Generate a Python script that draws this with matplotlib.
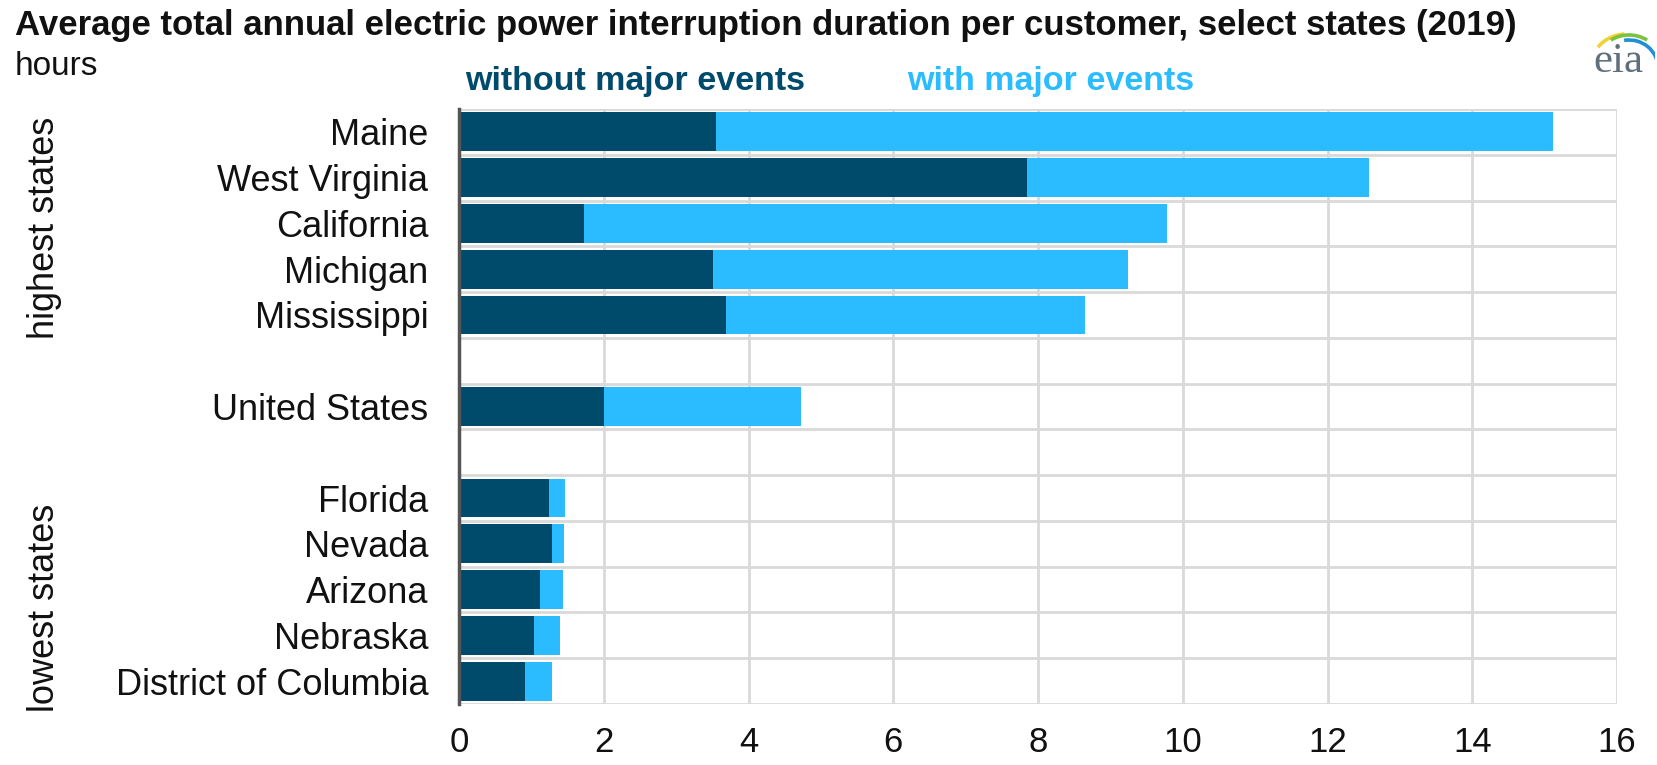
import matplotlib
matplotlib.use("Agg")
import matplotlib.pyplot as plt
from matplotlib.patches import Arc
import numpy as np

plt.rcParams['font.family'] = ['Liberation Sans', 'DejaVu Sans']

categories = ["Maine", "West Virginia", "California", "Michigan", "Mississippi",
              "", "United States", "",
              "Florida", "Nevada", "Arizona", "Nebraska", "District of Columbia"]
without_major = [3.55, 7.85, 1.73, 3.51, 3.69, np.nan, 2.00, np.nan, 1.24, 1.29, 1.12, 1.03, 0.91]
with_major_total = [15.12, 12.58, 9.78, 9.24, 8.65, np.nan, 4.73, np.nan, 1.46, 1.45, 1.44, 1.40, 1.29]
xticks = [0, 2, 4, 6, 8, 10, 12, 14, 16]

dark = "#004a6b"
light = "#2bbcff"
grid = "#d9d9d9"

W, H = 1657, 765
fig = plt.figure(figsize=(W / 100, H / 100), dpi=100)
ax = fig.add_axes([459 / W, 1 - 704 / H, (1617 - 459) / W, (704 - 109) / H])

y = np.arange(len(categories))
wo = np.array(without_major, dtype=float)
tot = np.array(with_major_total, dtype=float)
ax.barh(y, wo, height=0.85, color=dark, zorder=3)
ax.barh(y, tot - wo, left=wo, height=0.85, color=light, zorder=3)

ax.set_xlim(0, 16)
ax.set_ylim(len(categories) - 0.5, -0.5)
ax.set_xticks(xticks)
ax.set_xticklabels([str(t) for t in xticks])
ax.set_yticks(y)
ax.set_yticklabels(categories)
ax.tick_params(axis='both', length=0, colors="#111111")
ax.tick_params(axis='y', pad=22, labelsize=26)
ax.tick_params(axis='x', pad=16, labelsize=25)

# grid lines
for xv in xticks[1:]:
    ax.axvline(xv, color=grid, lw=2, zorder=1)
for yv in np.arange(-0.5, len(categories), 1.0):
    ax.axhline(yv, color=grid, lw=2, zorder=1)

for s in ["top", "right", "bottom"]:
    ax.spines[s].set_visible(False)
ax.spines["left"].set_color("#555555")
ax.spines["left"].set_linewidth(2.5)
ax.spines["left"].set_zorder(4)

# titles
fig.text(15 / W, 1 - 35 / H, "Average total annual electric power interruption duration per customer, select states (2019)",
         fontsize=25, fontweight="bold", color="#111111", ha="left", va="baseline")
fig.text(15 / W, 1 - 75 / H, "hours", fontsize=24, color="#111111", ha="left", va="baseline")

# legend
fig.text(465 / W, 1 - 90 / H, "without major events", fontsize=24.5, fontweight="bold", color=dark,
         ha="left", va="baseline")
fig.text(907 / W, 1 - 90 / H, "with major events", fontsize=24.5, fontweight="bold", color=light,
         ha="left", va="baseline")

# group labels
fig.text(45 / W, 1 - 228 / H, "highest states", fontsize=26, rotation=90, color="#111111",
         ha="center", va="center")
fig.text(45 / W, 1 - 608 / H, "lowest states", fontsize=26, rotation=90, color="#111111",
         ha="center", va="center")

# eia logo
lax = fig.add_axes([1575 / W, 1 - 82 / H, 80 / W, 65 / H])
lax.set_xlim(0, 80)
lax.set_ylim(0, 65)
lax.axis("off")
lax.text(43, 10, "eia", fontsize=31, family=["Liberation Serif", "DejaVu Serif"], color="#5f6f7c",
         ha="center", va="baseline")
lax.add_patch(Arc((52, 18), 70, 60, theta1=95, theta2=150, color="#f2d230", lw=2.6))
lax.add_patch(Arc((54, 16), 66, 62, theta1=55, theta2=125, color="#7cc242", lw=2.6))
lax.add_patch(Arc((54, 14), 58, 56, theta1=0, theta2=100, color="#1f8fd6", lw=2.6))

fig.savefig("out.png", dpi=100, facecolor="white")
